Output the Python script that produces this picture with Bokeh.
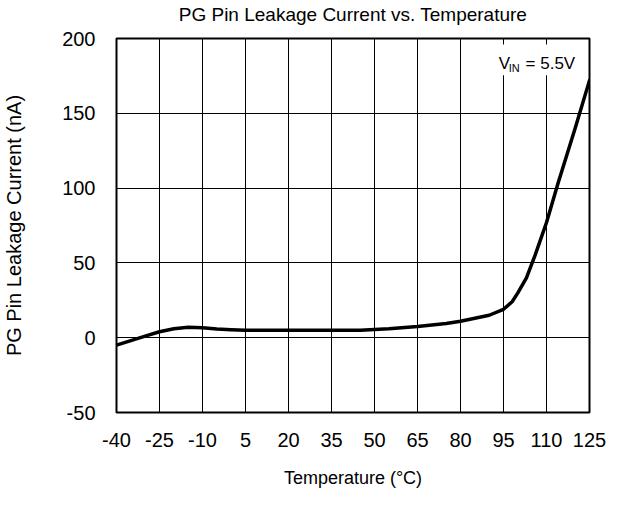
from bokeh.plotting import figure
from bokeh.models import FixedTicker, Range1d, Label, BoxAnnotation, CustomJSTickFormatter, Title
from bokeh.embed import file_html
from bokeh.resources import INLINE

# Data
temperature = [-40, -35, -30, -25, -20, -15, -10, -5, 0, 5, 20, 35, 45, 50, 55,
               65, 75, 80, 85, 90, 95, 98, 100, 103, 106, 110, 114, 120, 125]
leakage_na = [-5, -2, 1, 4, 6, 7, 6.6, 5.8, 5.3, 5, 5, 5, 5, 5.5, 6,
              7.5, 9.5, 11, 13, 15, 19, 24, 30, 40, 55, 77, 103, 140, 172]

x_ticks = [-40, -25, -10, 5, 20, 35, 50, 65, 80, 95, 110, 125]
y_ticks = [-50, 0, 50, 100, 150, 200]

title_text = "PG Pin Leakage Current vs. Temperature"
FONT = "Liberation Sans"

p = figure(width=609, height=490, output_backend="svg", toolbar_location=None,
           x_range=Range1d(-40, 125), y_range=Range1d(-50, 200),
           min_border_left=115, min_border_right=20,
           min_border_top=38, min_border_bottom=74, title=None)

# spacer (closest to the frame) then the real title above it
p.add_layout(Title(text=" ", text_font=FONT, text_font_size="11px", standoff=0), "above")
p.add_layout(Title(text=title_text, text_font=FONT, text_font_size="19px",
                   text_font_style="normal", text_color="black", align="center",
                   standoff=0), "above")

p.outline_line_color = "black"
p.outline_line_width = 2
p.outline_line_alpha = 1
p.background_fill_color = "white"
p.border_fill_color = "white"

fmt = CustomJSTickFormatter(code="return String(tick);")
for ax, ticks in ((p.xaxis, x_ticks), (p.yaxis, y_ticks)):
    ax.ticker = FixedTicker(ticks=ticks)
    ax.formatter = fmt
    ax.axis_line_color = None
    ax.major_tick_line_color = None
    ax.minor_tick_line_color = None
    ax.major_tick_out = 0
    ax.major_tick_in = 0
    ax.major_label_text_font = FONT
    ax.major_label_text_font_size = "20px"
    ax.major_label_text_color = "black"
    ax.axis_label_text_font = FONT
    ax.axis_label_text_font_style = "normal"
    ax.axis_label_text_color = "black"

p.xaxis.major_label_standoff = 20
p.yaxis.major_label_standoff = 21
p.xaxis.axis_label = "Temperature (°C)"
p.yaxis.axis_label = "PG Pin Leakage Current (nA)"
p.xaxis.axis_label_text_font_size = "18px"
p.yaxis.axis_label_text_font_size = "20px"
p.xaxis.axis_label_standoff = 18
p.yaxis.axis_label_standoff = 34

p.xgrid.ticker = FixedTicker(ticks=x_ticks)
p.ygrid.ticker = FixedTicker(ticks=y_ticks)
for g in (p.xgrid, p.ygrid):
    g.grid_line_color = "black"
    g.grid_line_width = 1
    g.grid_line_alpha = 1

p.line(temperature, leakage_na, line_color="black", line_width=3.5,
       line_join="round", line_cap="round")

# VIN annotation with white background box
p.add_layout(BoxAnnotation(left=91, right=121.5, bottom=175.5, top=196,
                           fill_color="white", fill_alpha=1, line_color=None))
p.add_layout(Label(x=93.3, y=183.5, text="V", text_font=FONT, text_font_size="17px",
                   text_baseline="middle", text_color="black"))
p.add_layout(Label(x=96.8, y=180.2, text="IN", text_font=FONT, text_font_size="11px",
                   text_baseline="middle", text_color="black"))
p.add_layout(Label(x=102.7, y=183.5, text="= 5.5V", text_font=FONT, text_font_size="17px",
                   text_baseline="middle", text_color="black"))

open("out.html", "w").write(file_html(p, INLINE))
